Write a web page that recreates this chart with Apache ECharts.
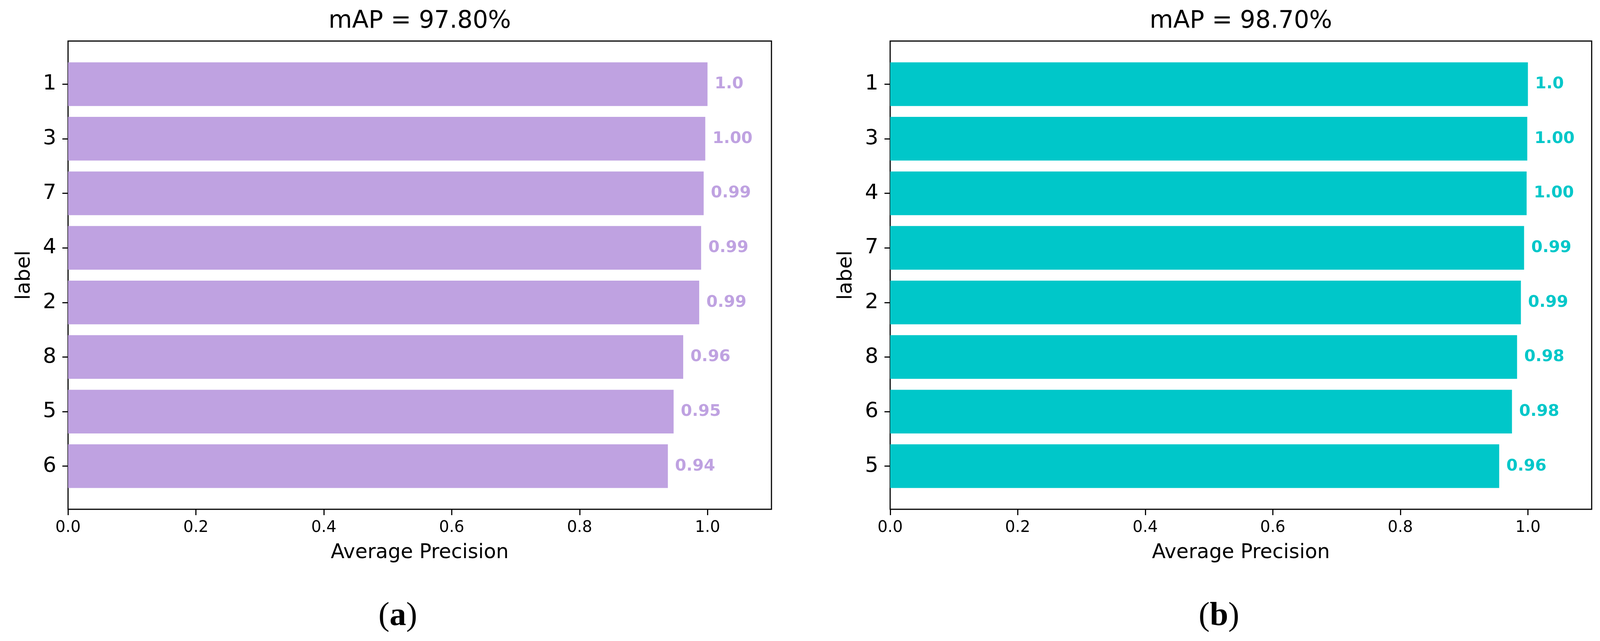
<!DOCTYPE html>
<html>
<head>
<meta charset="utf-8">
<script src="https://cdn.jsdelivr.net/npm/echarts@6/dist/echarts.min.js"></script>
<style>
html,body{margin:0;padding:0;background:#fff;overflow:hidden;}
#c{width:100vw;height:100vh;}
</style>
</head>
<body>
<div id="c"></div>
<script>
// ---- data ----
const catsA = ['1','3','7','4','2','8','5','6'];
const valsA = [1.0, 0.9965, 0.994, 0.990, 0.987, 0.962, 0.947, 0.938];
const textA = ['1.0','1.00','0.99','0.99','0.99','0.96','0.95','0.94'];
const catsB = ['1','3','4','7','2','8','6','5'];
const valsB = [1.0, 0.999, 0.998, 0.994, 0.989, 0.983, 0.975, 0.955];
const textB = ['1.0','1.00','1.00','0.99','0.99','0.98','0.98','0.96'];
const xTicks = [0, 0.2, 0.4, 0.6, 0.8, 1.0];
const titles = ['mAP = 97.80%', 'mAP = 98.70%'];
const tags = ['a', 'b'];
const colors = ['#bfa2e1', '#00c7c9'];

// ---- layout (designed for 4233 x 1640, scaled to the real viewport) ----
const el = document.getElementById('c');
const CW = el.clientWidth || window.innerWidth, CH = el.clientHeight || window.innerHeight;
const sx = CW / 4233, sy = CH / 1640, s = Math.min(sx, sy);
const X = v => v * sx, Y = v => v * sy, S = v => v * s;
const FONT = 'DejaVu Sans';
const frameTop = 105, frameBottom = 1303;
const panels = [
  {left: 180, right: 2041, cats: catsA, vals: valsA, text: textA},
  {left: 2355, right: 4211, cats: catsB, vals: valsB, text: textB}
];
const ylimLow = -0.79, ylimHigh = 7.79;
const pxPerUnit = (frameBottom - frameTop) / (ylimHigh - ylimLow);
const barsTop = frameTop + (-0.5 - ylimLow) * pxPerUnit;
const barsHeight = 8 * pxPerUnit;

const grid = [], xAxis = [], yAxis = [], series = [], graphic = [];
panels.forEach((p, i) => {
  const gFrame = grid.length;
  grid.push({left: X(p.left), width: X(p.right - p.left), top: Y(frameTop), height: Y(frameBottom - frameTop),
    show: true, borderColor: '#000', borderWidth: S(3), backgroundColor: 'transparent', containLabel: false});
  grid.push({left: X(p.left), width: X(p.right - p.left), top: Y(barsTop), height: Y(barsHeight), containLabel: false});
  xAxis.push({gridIndex: gFrame, type: 'value', min: 0, max: 1.1,
    axisLine: {show: false}, splitLine: {show: false},
    axisTick: {show: true, length: Y(15), lineStyle: {color: '#000', width: S(3)}, customValues: xTicks},
    axisLabel: {show: true, customValues: xTicks, formatter: v => Number(v).toFixed(1),
      fontFamily: FONT, fontSize: S(42), color: '#000', margin: Y(27)},
    name: 'Average Precision', nameLocation: 'middle', nameGap: Y(86),
    nameTextStyle: {fontFamily: FONT, fontSize: S(53), color: '#000'}
  });
  yAxis.push({gridIndex: gFrame, type: 'value', min: 0, max: 1, show: false});
  xAxis.push({gridIndex: gFrame + 1, type: 'value', min: 0, max: 1.1, show: false});
  yAxis.push({gridIndex: gFrame + 1, type: 'category', data: p.cats, inverse: true,
    axisLine: {show: false}, splitLine: {show: false},
    axisTick: {show: true, alignWithLabel: true, length: X(15), lineStyle: {color: '#000', width: S(3)}},
    axisLabel: {fontFamily: FONT, fontSize: S(56), color: '#000', margin: X(31)},
    name: 'label', nameLocation: 'middle', nameGap: X(89),
    nameTextStyle: {fontFamily: FONT, fontSize: S(54), color: '#000'}
  });
  const txt = p.text;
  series.push({type: 'bar', xAxisIndex: gFrame + 1, yAxisIndex: gFrame + 1, data: p.vals,
    barCategoryGap: '20%', itemStyle: {color: colors[i]}, silent: true,
    label: {show: true, position: 'right', distance: X(19), formatter: d => txt[d.dataIndex],
      fontFamily: FONT, fontSize: S(43), fontWeight: 'bold', color: colors[i]}
  });
  const cx = (p.left + p.right) / 2;
  graphic.push({type: 'text', x: X(cx), y: Y(55), style: {text: titles[i], font: S(64) + 'px "DejaVu Sans"', fill: '#000', align: 'center', verticalAlign: 'middle'}});
  graphic.push({type: 'text', x: X(cx - 58), y: Y(1577), style: {
    text: '{p|(}{b|' + tags[i] + '}{p|)}', align: 'center', verticalAlign: 'middle',
    rich: {p: {fontFamily: 'Liberation Serif', fontSize: S(88), color: '#000'},
           b: {fontFamily: 'Liberation Serif', fontSize: S(88), fontWeight: 'bold', color: '#000'}}
  }});
});

const chart = echarts.init(el, null, {renderer: 'canvas'});
chart.setOption({backgroundColor: '#fff', animation: false, grid, xAxis, yAxis, series, graphic});
</script>
</body>
</html>
